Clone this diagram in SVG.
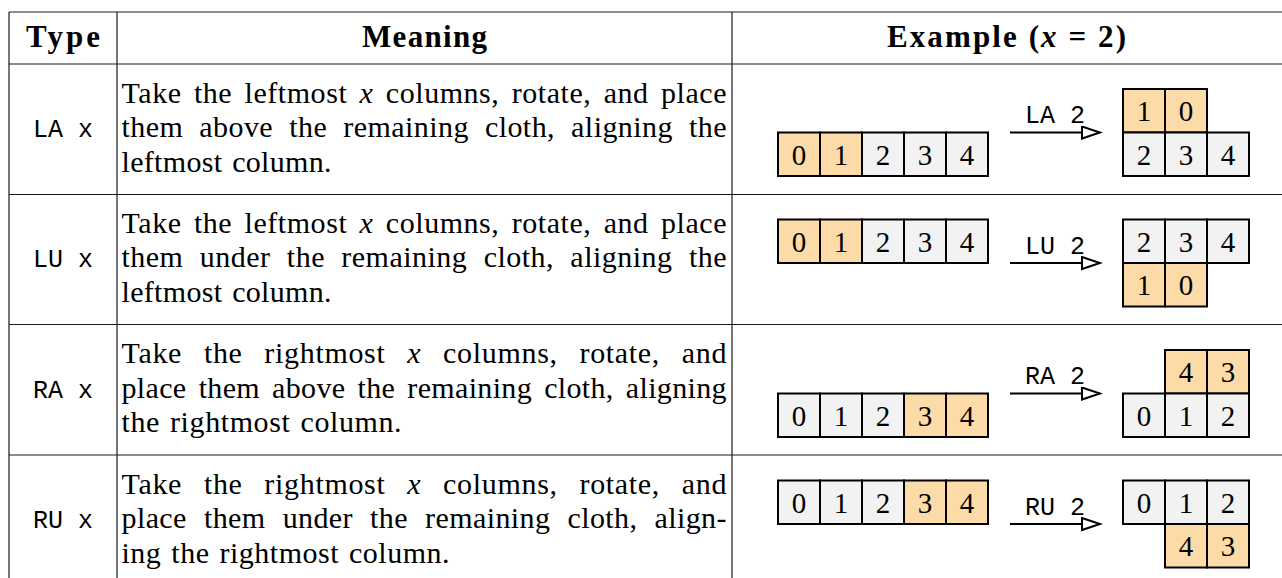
<svg xmlns="http://www.w3.org/2000/svg" width="1282" height="578" viewBox="0 0 1282 578">
<style>
.rule{stroke:#1a1a1a;stroke-width:1.2;fill:none}
.t{font-family:"Liberation Serif",serif;font-size:30px;fill:#000}
.h{font-family:"Liberation Serif",serif;font-size:31px;font-weight:bold;fill:#000;text-anchor:middle}
.m{font-family:"Liberation Mono",monospace;font-size:25px;fill:#000;text-anchor:middle}
.d{font-family:"Liberation Serif",serif;font-size:29px;fill:#000;text-anchor:middle}
.g{fill:#f2f2f2;stroke:#000;stroke-width:2}
.o{fill:#fddba8;stroke:#000;stroke-width:2}
.arr{stroke:#000;stroke-width:2;fill:none;marker-end:url(#tri)}
</style>
<defs>
<marker id="tri" markerUnits="userSpaceOnUse" markerWidth="22" markerHeight="16" refX="19" refY="7" orient="auto">
<path d="M1,1 L19,7 L1,13 Z" fill="#fff" stroke="#000" stroke-width="2"/>
</marker>
</defs>
<rect width="1282" height="578" fill="#fff"/>
<g id="table-rules">
<line class="rule" x1="9" y1="12" x2="1282" y2="12"/>
<line class="rule" x1="9" y1="64" x2="1282" y2="64"/>
<line class="rule" x1="9" y1="194.5" x2="1282" y2="194.5"/>
<line class="rule" x1="9" y1="324.5" x2="1282" y2="324.5"/>
<line class="rule" x1="9" y1="455" x2="1282" y2="455"/>
<line class="rule" x1="9" y1="12" x2="9" y2="578"/>
<line class="rule" x1="117" y1="12" x2="117" y2="578"/>
<line class="rule" x1="732" y1="12" x2="732" y2="578"/>
</g>
<g id="header">
<text class="h" x="63" y="47" textLength="74" lengthAdjust="spacing">Type</text>
<text class="h" x="424.5" y="47" textLength="125" lengthAdjust="spacing">Meaning</text>
<text class="h" x="1006.5" y="47" textLength="239" lengthAdjust="spacing">Example (<tspan font-style="italic">x</tspan> = 2)</text>
</g>
<g id="row1-type"><text class="m" x="63" y="137">LA x</text></g>
<g id="row1-meaning">
<text class="t" x="121.5" y="102.5" word-spacing="4.3" textLength="605" lengthAdjust="spacing">Take the leftmost <tspan font-style="italic">x</tspan> columns, rotate, and place</text>
<text class="t" x="121.5" y="137" word-spacing="8.2" textLength="605" lengthAdjust="spacing">them above the remaining cloth, aligning the</text>
<text class="t" x="121.5" y="171.5" word-spacing="2" textLength="210" lengthAdjust="spacing">leftmost column.</text>
</g>
<g id="row2-type"><text class="m" x="63" y="267.3">LU x</text></g>
<g id="row2-meaning">
<text class="t" x="121.5" y="232.8" word-spacing="4.3" textLength="605" lengthAdjust="spacing">Take the leftmost <tspan font-style="italic">x</tspan> columns, rotate, and place</text>
<text class="t" x="121.5" y="267.3" word-spacing="8.4" textLength="605" lengthAdjust="spacing">them under the remaining cloth, aligning the</text>
<text class="t" x="121.5" y="301.8" word-spacing="2" textLength="210" lengthAdjust="spacing">leftmost column.</text>
</g>
<g id="row3-type"><text class="m" x="63" y="397.7">RA x</text></g>
<g id="row3-meaning">
<text class="t" x="121.5" y="363.2" word-spacing="13.6" textLength="605" lengthAdjust="spacing">Take the rightmost <tspan font-style="italic">x</tspan> columns, rotate, and</text>
<text class="t" x="121.5" y="397.7" word-spacing="4.3" textLength="605" lengthAdjust="spacing">place them above the remaining cloth, aligning</text>
<text class="t" x="121.5" y="432.2" word-spacing="2" textLength="280" lengthAdjust="spacing">the rightmost column.</text>
</g>
<g id="row4-type"><text class="m" x="63" y="528">RU x</text></g>
<g id="row4-meaning">
<text class="t" x="121.5" y="493.5" word-spacing="13.6" textLength="605" lengthAdjust="spacing">Take the rightmost <tspan font-style="italic">x</tspan> columns, rotate, and</text>
<text class="t" x="121.5" y="528" word-spacing="9.2" textLength="605" lengthAdjust="spacing">place them under the remaining cloth, align-</text>
<text class="t" x="121.5" y="562.5" word-spacing="2" textLength="328" lengthAdjust="spacing">ing the rightmost column.</text>
</g>

<g id="connectors">
<line class="arr" x1="1010" y1="132.5" x2="1100" y2="132.5"/>
<line class="arr" x1="1010" y1="263" x2="1100" y2="263"/>
<line class="arr" x1="1010" y1="393.5" x2="1100" y2="393.5"/>
<line class="arr" x1="1010" y1="524" x2="1100" y2="524"/>
</g>
<g id="arrow-labels">
<text class="m" x="1055" y="123">LA 2</text>
<text class="m" x="1055" y="253.5">LU 2</text>
<text class="m" x="1055" y="384">RA 2</text>
<text class="m" x="1055" y="514.5">RU 2</text>
</g>

<g id="row1-src">
<rect class="o" x="778" y="132.5" width="42" height="43.5"/><rect class="o" x="820" y="132.5" width="42" height="43.5"/><rect class="g" x="862" y="132.5" width="42" height="43.5"/><rect class="g" x="904" y="132.5" width="42" height="43.5"/><rect class="g" x="946" y="132.5" width="42" height="43.5"/>
<text class="d" x="799" y="164.5">0</text><text class="d" x="841" y="164.5">1</text><text class="d" x="883" y="164.5">2</text><text class="d" x="925" y="164.5">3</text><text class="d" x="967" y="164.5">4</text>
</g>
<g id="row1-res">
<rect class="o" x="1123" y="89" width="42" height="43.5"/><rect class="o" x="1165" y="89" width="42" height="43.5"/>
<rect class="g" x="1123" y="132.5" width="42" height="43.5"/><rect class="g" x="1165" y="132.5" width="42" height="43.5"/><rect class="g" x="1207" y="132.5" width="42" height="43.5"/>
<text class="d" x="1144" y="121">1</text><text class="d" x="1186" y="121">0</text>
<text class="d" x="1144" y="164.5">2</text><text class="d" x="1186" y="164.5">3</text><text class="d" x="1228" y="164.5">4</text>
</g>

<g id="row2-src">
<rect class="o" x="778" y="219.5" width="42" height="43.5"/><rect class="o" x="820" y="219.5" width="42" height="43.5"/><rect class="g" x="862" y="219.5" width="42" height="43.5"/><rect class="g" x="904" y="219.5" width="42" height="43.5"/><rect class="g" x="946" y="219.5" width="42" height="43.5"/>
<text class="d" x="799" y="251.5">0</text><text class="d" x="841" y="251.5">1</text><text class="d" x="883" y="251.5">2</text><text class="d" x="925" y="251.5">3</text><text class="d" x="967" y="251.5">4</text>
</g>
<g id="row2-res">
<rect class="g" x="1123" y="219.5" width="42" height="43.5"/><rect class="g" x="1165" y="219.5" width="42" height="43.5"/><rect class="g" x="1207" y="219.5" width="42" height="43.5"/>
<rect class="o" x="1123" y="263" width="42" height="43.5"/><rect class="o" x="1165" y="263" width="42" height="43.5"/>
<text class="d" x="1144" y="251.5">2</text><text class="d" x="1186" y="251.5">3</text><text class="d" x="1228" y="251.5">4</text>
<text class="d" x="1144" y="295">1</text><text class="d" x="1186" y="295">0</text>
</g>

<g id="row3-src">
<rect class="g" x="778" y="393.5" width="42" height="43.5"/><rect class="g" x="820" y="393.5" width="42" height="43.5"/><rect class="g" x="862" y="393.5" width="42" height="43.5"/><rect class="o" x="904" y="393.5" width="42" height="43.5"/><rect class="o" x="946" y="393.5" width="42" height="43.5"/>
<text class="d" x="799" y="425.5">0</text><text class="d" x="841" y="425.5">1</text><text class="d" x="883" y="425.5">2</text><text class="d" x="925" y="425.5">3</text><text class="d" x="967" y="425.5">4</text>
</g>
<g id="row3-res">
<rect class="o" x="1165" y="350" width="42" height="43.5"/><rect class="o" x="1207" y="350" width="42" height="43.5"/>
<rect class="g" x="1123" y="393.5" width="42" height="43.5"/><rect class="g" x="1165" y="393.5" width="42" height="43.5"/><rect class="g" x="1207" y="393.5" width="42" height="43.5"/>
<text class="d" x="1186" y="382">4</text><text class="d" x="1228" y="382">3</text>
<text class="d" x="1144" y="425.5">0</text><text class="d" x="1186" y="425.5">1</text><text class="d" x="1228" y="425.5">2</text>
</g>

<g id="row4-src">
<rect class="g" x="778" y="480.5" width="42" height="43.5"/><rect class="g" x="820" y="480.5" width="42" height="43.5"/><rect class="g" x="862" y="480.5" width="42" height="43.5"/><rect class="o" x="904" y="480.5" width="42" height="43.5"/><rect class="o" x="946" y="480.5" width="42" height="43.5"/>
<text class="d" x="799" y="512.5">0</text><text class="d" x="841" y="512.5">1</text><text class="d" x="883" y="512.5">2</text><text class="d" x="925" y="512.5">3</text><text class="d" x="967" y="512.5">4</text>
</g>
<g id="row4-res">
<rect class="g" x="1123" y="480.5" width="42" height="43.5"/><rect class="g" x="1165" y="480.5" width="42" height="43.5"/><rect class="g" x="1207" y="480.5" width="42" height="43.5"/>
<rect class="o" x="1165" y="524" width="42" height="43.5"/><rect class="o" x="1207" y="524" width="42" height="43.5"/>
<text class="d" x="1144" y="512.5">0</text><text class="d" x="1186" y="512.5">1</text><text class="d" x="1228" y="512.5">2</text>
<text class="d" x="1186" y="556">4</text><text class="d" x="1228" y="556">3</text>
</g>
</svg>
